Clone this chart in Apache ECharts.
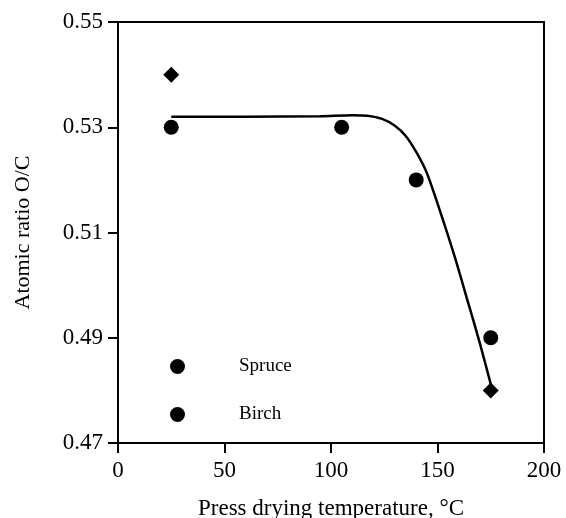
<!DOCTYPE html>
<html>
<head>
<meta charset="utf-8">
<script src="https://cdn.jsdelivr.net/npm/echarts@6/dist/echarts.min.js"></script>
<style>
  html, body { margin: 0; padding: 0; background: #fff; }
  #chart { width: 566px; height: 518px; }
</style>
</head>
<body>
<div id="chart"></div>
<script>
// data
var spruce = [[25, 0.53], [105, 0.53], [140, 0.52], [175, 0.49]]
var birch = [[25, 0.54], [175, 0.48]]
// fitted curve (traced)
var fitCurve = [
  [25, 0.532], [60, 0.532], [95, 0.5321], [110, 0.5323], [117, 0.5322],
  [124, 0.5316], [130, 0.5303], [135, 0.5284], [140, 0.5253], [145, 0.5213],
  [151, 0.5143], [158, 0.5055], [164, 0.4972], [170, 0.4888], [175, 0.4812]
]
var yTicks = [0.47, 0.49, 0.51, 0.53, 0.55]

var font = 'Liberation Serif'
var chart = echarts.init(document.getElementById('chart'))

chart.setOption({
  animation: false,
  backgroundColor: '#fff',
  grid: {
    left: 118,
    right: 22,
    top: 22,
    bottom: 75,
    outerBoundsMode: 'none',
    show: true,
    borderColor: '#000',
    borderWidth: 2
  },
  legend: {
    orient: 'vertical',
    left: 165,
    top: 352,
    icon: 'circle',
    itemWidth: 15,
    itemHeight: 15,
    itemGap: 29,
    data: ['Spruce', 'Birch'],
    textStyle: {
      fontFamily: font,
      fontSize: 19,
      lineHeight: 16,
      color: '#000',
      padding: [0, 0, 0, 49]
    }
  },
  xAxis: {
    type: 'value',
    min: 0,
    max: 200,
    interval: 50,
    name: 'Press drying temperature, \u00b0C',
    nameLocation: 'middle',
    nameGap: 54,
    nameTextStyle: { fontFamily: font, fontSize: 23, color: '#000' },
    axisLine: { lineStyle: { color: '#000', width: 2 } },
    axisTick: { inside: false, length: 10, lineStyle: { color: '#000', width: 2 } },
    axisLabel: { fontFamily: font, fontSize: 23, color: '#000', margin: 16 },
    splitLine: { show: false }
  },
  yAxis: {
    type: 'value',
    min: 0.47,
    max: 0.55,
    name: 'Atomic ratio O/C',
    nameLocation: 'middle',
    nameGap: 84,
    nameRotate: 90,
    nameTextStyle: { fontFamily: font, fontSize: 22, color: '#000' },
    axisLine: { lineStyle: { color: '#000', width: 2 } },
    axisTick: { inside: false, length: 10, customValues: yTicks, lineStyle: { color: '#000', width: 2 } },
    axisLabel: {
      fontFamily: font, fontSize: 23, color: '#000', margin: 15,
      customValues: yTicks,
      formatter: function (v) { return v.toFixed(2) }
    },
    splitLine: { show: false }
  },
  series: [
    {
      name: 'fit',
      type: 'line',
      data: fitCurve,
      smooth: 0.25,
      symbol: 'none',
      lineStyle: { color: '#000', width: 2.5 },
      z: 1
    },
    {
      name: 'Spruce',
      type: 'scatter',
      data: spruce,
      symbol: 'circle',
      symbolSize: 15,
      itemStyle: { color: '#000', opacity: 1 },
      z: 3
    },
    {
      name: 'Birch',
      type: 'scatter',
      data: birch,
      symbol: 'diamond',
      symbolSize: 16,
      itemStyle: { color: '#000', opacity: 1 },
      z: 3
    }
  ]
})
</script>
</body>
</html>
